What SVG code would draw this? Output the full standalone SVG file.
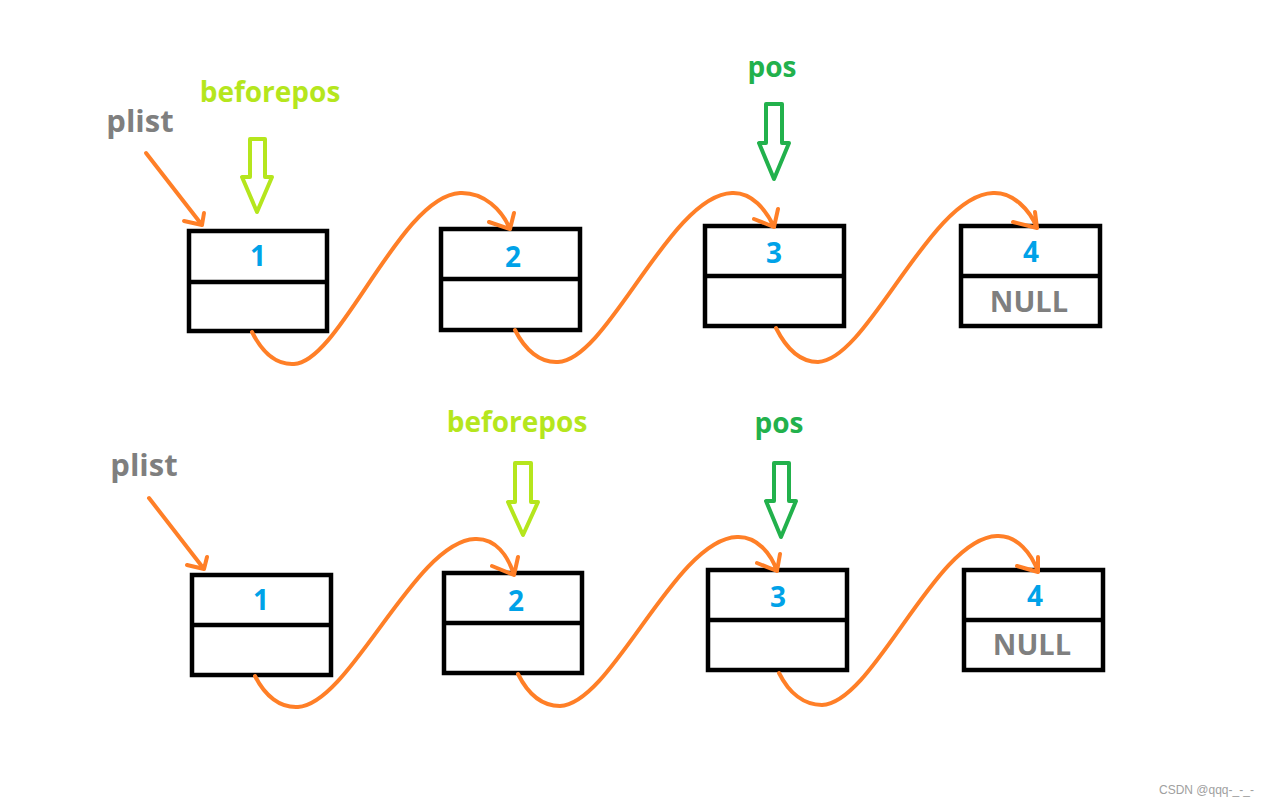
<svg xmlns="http://www.w3.org/2000/svg" width="1274" height="806" viewBox="0 0 1274 806">
<style>
.box{fill:none;stroke:#000;stroke-width:4.5}
.num{font-family:"Open Sans","Noto Sans",sans-serif;font-weight:bold;font-size:28px;fill:#00a2e8;text-anchor:middle}
.null{font-family:"Open Sans","Noto Sans",sans-serif;font-weight:bold;font-size:29px;fill:#7f7f7f;text-anchor:middle}
.plist{font-family:"Open Sans","Noto Sans",sans-serif;font-weight:bold;font-size:31px;fill:#7f7f7f;text-anchor:middle}
.bp{font-family:"Open Sans","Noto Sans",sans-serif;font-weight:bold;font-size:28px;fill:#b5e61d;text-anchor:middle}
.pos{font-family:"Open Sans","Noto Sans",sans-serif;font-weight:bold;font-size:28px;fill:#22b14c;text-anchor:middle}
.ptrb{fill:#fff;stroke:#b5e61d;stroke-width:4;stroke-linejoin:round}
.ptrp{fill:#fff;stroke:#22b14c;stroke-width:4;stroke-linejoin:round}
.con{fill:none;stroke:#ff7f27;stroke-width:4;stroke-linecap:round;stroke-linejoin:round}
.wm{font-family:"Liberation Sans",Arial,sans-serif;font-size:12px;fill:#a0a0a0}
</style>
<rect width="1274" height="806" fill="#fff"/>

<!-- Top row -->
<g id="t-node1"><rect class="box" x="189" y="231" width="138" height="100"/><line class="box" x1="189" y1="282" x2="327" y2="282"/><text class="num" x="258" y="266">1</text></g>
<g id="t-node2"><rect class="box" x="441" y="229" width="139" height="101"/><line class="box" x1="441" y1="279" x2="580" y2="279"/><text class="num" x="513" y="267">2</text></g>
<g id="t-node3"><rect class="box" x="705" y="226" width="139" height="100"/><line class="box" x1="705" y1="276" x2="844" y2="276"/><text class="num" x="774" y="263">3</text></g>
<g id="t-node4"><rect class="box" x="961" y="226" width="139" height="100"/><line class="box" x1="961" y1="276" x2="1100" y2="276"/><text class="num" x="1031" y="262">4</text><text class="null" x="1029" y="312">NULL</text></g>

<g id="t-plist"><text class="plist" x="140" y="132">plist</text></g>
<g id="t-beforepos"><text class="bp" x="270" y="102">beforepos</text><polygon class="ptrb" points="250,139 265,139 265,177 272,177 257,212 242,177 250,177"/></g>
<g id="t-pos"><text class="pos" x="772" y="77">pos</text><polygon class="ptrp" points="766,104 782,104 782,143 789,143 774,179 759,143 766,143"/></g>

<!-- Bottom row -->
<g id="b-node1"><rect class="box" x="192" y="575" width="139" height="100"/><line class="box" x1="192" y1="625" x2="331" y2="625"/><text class="num" x="261" y="610">1</text></g>
<g id="b-node2"><rect class="box" x="444" y="573" width="138" height="100"/><line class="box" x1="444" y1="623" x2="582" y2="623"/><text class="num" x="516" y="611">2</text></g>
<g id="b-node3"><rect class="box" x="708" y="570" width="139" height="100"/><line class="box" x1="708" y1="620" x2="847" y2="620"/><text class="num" x="778" y="607">3</text></g>
<g id="b-node4"><rect class="box" x="964" y="570" width="139" height="100"/><line class="box" x1="964" y1="620" x2="1103" y2="620"/><text class="num" x="1035" y="606">4</text><text class="null" x="1032" y="655">NULL</text></g>

<g id="b-plist"><text class="plist" x="144" y="476">plist</text></g>
<g id="b-beforepos"><text class="bp" x="517" y="432">beforepos</text><polygon class="ptrb" points="515,463 531,463 531,502 538,502 523,535 508,502 515,502"/></g>
<g id="b-pos"><text class="pos" x="779" y="433">pos</text><polygon class="ptrp" points="774,463 789,463 789,501 796,501 781,537 766,501 774,501"/></g>

<g id="connectors">
<!-- top -->
<path class="con" d="M146,153 L202,225 M184,221 L202,225 L204,213"/>
<path class="con" d="M252,332 C262,352 276,365 294,364 C340,362 400,196 460,193 C484,192 502,210 510,229 M489,222 L510,229 L514,213"/>
<path class="con" d="M515,330 C525,350 540,363 558,362 C608,360 670,195 732,193 C752,192 766,210 774,227 M754,219 L774,227 L778,209"/>
<path class="con" d="M776,328 C786,348 800,362 818,362 C868,360 930,195 993,193 C1013,192 1030,210 1037,228 M1013,222 L1037,228 L1035,212"/>
<!-- bottom -->
<path class="con" d="M149,498 L204,569 M187,565 L204,569 L207,557"/>
<path class="con" d="M255,676 C265,696 280,708 298,707 C350,704 415,541 475,539 C496,538 508,556 514,575 M492,566 L514,575 L518,557"/>
<path class="con" d="M518,674 C528,694 542,706 560,706 C612,704 675,539 737,537 C757,536 771,554 777,571 M757,563 L777,571 L780,554"/>
<path class="con" d="M779,673 C789,693 804,705 822,705 C874,703 935,538 997,536 C1017,535 1032,554 1038,572 M1017,566 L1038,572 L1038,557"/>
</g>

<text class="wm" x="1159" y="794">CSDN @qqq-_-_-</text>
</svg>
